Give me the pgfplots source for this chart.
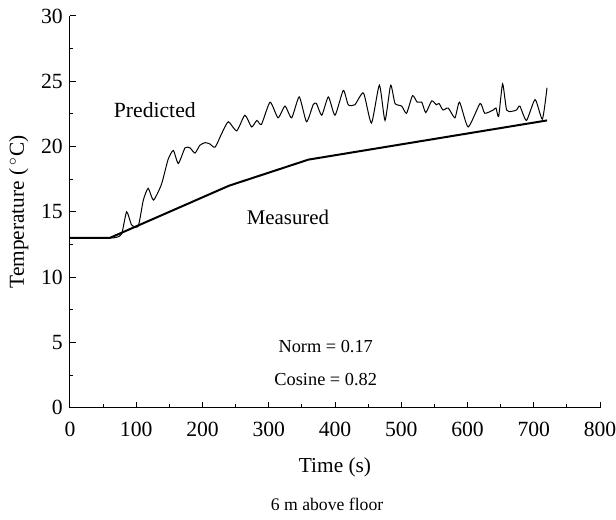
\documentclass[border=0pt]{standalone}
\usepackage{fontspec}
\setmainfont{Liberation Serif}
\usepackage{pgfplots}
\pgfplotsset{compat=1.18}
\begin{document}
\fontsize{12.5}{15}\selectfont
\begin{tikzpicture}
\begin{axis}[
  scale only axis,
  width=318pt, height=235pt,
  xmin=0, xmax=800, ymin=0, ymax=30,
  axis x line*=bottom, axis y line*=left,
  axis line style={-, line width=0.6pt},
  xtick={0,100,...,800}, ytick={0,5,...,30},
  minor x tick num=1, minor y tick num=1,
  tick align=inside,
  major tick length=3.6pt, minor tick length=2pt,
  tick style={black, line width=0.6pt},
  /pgf/number format/assume math mode=true,
  ticklabel style={font=\fontsize{13}{15}\selectfont},
  xticklabel style={yshift=-4pt},
  xlabel={Time (s)},
  ylabel={Temperature (\,$^\circ$C)},
  xlabel style={font=\fontsize{12.8}{15}\selectfont, yshift=-4.5pt},
  ylabel style={font=\fontsize{12.8}{15}\selectfont, yshift=-1pt},
  clip=false,
]
\addplot[black, line width=0.6pt, smooth, tension=0.35] coordinates {
(0,13) (60,13) (70,13.05) (78,13.3) (85.5,15.0) (93,14.0) (103,13.9)
(110.7,15.9) (118,16.8) (126,15.9) (138,17.1) (148,19.0) (156,19.7)
(163.5,18.7) (173.6,19.9) (181,19.9) (188.7,19.5) (196,20.1) (204,20.3)
(211,20.2) (219,19.95) (229,21.0) (239,21.9) (251.6,21.2) (264,22.4)
(274,21.5) (282,22.0) (289,21.7) (302,23.4) (314,22.2) (324.5,23.1)
(334.6,22.2) (346,23.8) (357,21.9) (367,23.2) (372,23.3) (380,22.4)
(390,23.8) (400,22.4) (412.5,24.3) (420,23.2) (430,23.2) (443,24.1)
(455,21.8) (467,24.7) (475.5,22.0) (484,24.7) (490.6,23.3) (500.6,23.1)
(508,22.55) (517,23.9) (524,23.4) (531,23.4) (537,22.6) (546,23.5)
(553,23.2) (557,23.3) (563,22.8) (571,22.95) (581,22.2) (588,23.4)
(601,21.5) (619,23.3) (626,22.55) (639,22.8) (643,22.95) (647,22.3)
(653,24.8) (659,22.8) (667,22.7) (674,22.8) (679,23.1) (689,22.0)
(702,23.6) (713,22.1) (720,24.5)
};
\addplot[black, line width=1.2pt] coordinates {
(0,13) (60,13) (150,15) (240,17) (360,19) (720,22)
};
\node[font=\fontsize{13}{15}\selectfont] at (axis cs:128,22.8) {Predicted};
\node[font=\fontsize{12.5}{15}\selectfont] at (axis cs:329,14.6) {Measured};
\node[font=\fontsize{11}{13}\selectfont] at (axis cs:386,4.67) {Norm = 0.17};
\node[font=\fontsize{11}{13}\selectfont] at (axis cs:386,2.14) {Cosine = 0.82};
\node[font=\fontsize{10.6}{12}\selectfont] at (axis cs:388,-7.43) {6 m above floor};
\path (rel axis cs:0,0) ++(-42pt,-67.2pt) coordinate (bl);
\path (rel axis cs:1,1) ++(9.6pt,9.6pt) coordinate (tr);
\end{axis}
\pgfresetboundingbox
\path[use as bounding box] (bl) rectangle (tr);
\end{tikzpicture}
\end{document}
